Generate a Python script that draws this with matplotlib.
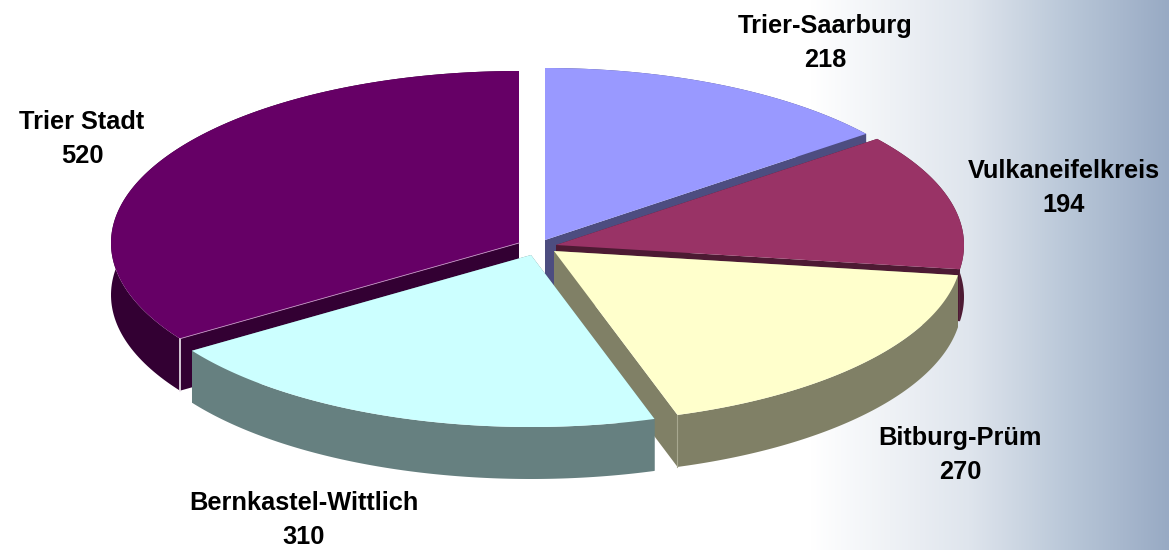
import numpy as np
import matplotlib
matplotlib.use('Agg')
import matplotlib.pyplot as plt
from matplotlib.colors import LinearSegmentedColormap
from matplotlib.patches import Polygon

names = ['Trier-Saarburg', 'Vulkaneifelkreis', 'Bitburg-Prüm', 'Bernkastel-Wittlich', 'Trier Stadt']
values = [218, 194, 270, 310, 520]
top_colors = ['#9999ff', '#993366', '#ffffcc', '#ccffff', '#660066']
side_colors = ['#4d4d80', '#4d1a33', '#808066', '#668080', '#330033']

# apex of every exploded slice, in pixels
apex_x = [545, 556, 554, 531, 519]
apex_y = [240, 245, 251, 255, 243]
label_x = [825, 1064, 960, 304, 82]
label_y = [43, 188, 455, 520, 139]

RX = 408
RY = 172
DEPTH = 52

plt.rcParams['font.family'] = ['Liberation Sans', 'DejaVu Sans']

fig = plt.figure(figsize=(11.69, 5.5), dpi=100)
ax = fig.add_axes([0, 0, 1, 1])
ax.axis('off')

# background, white then blue-grey to the right
cmap = LinearSegmentedColormap.from_list(
    'bg', [(0, '#ffffff'), (0.443, '#dfe5ed'), (0.72, '#b9c7d8'), (1, '#98aac4')])
grad = np.linspace(0, 1, 256).reshape(1, -1)
ax.imshow(grad, extent=[810, 1169, 550, 0], cmap=cmap, aspect='auto', zorder=0)
ax.set_xlim(0, 1169)
ax.set_ylim(550, 0)


def arc(cx, cy, a0, a1):
    t = np.radians(np.linspace(a0, a1, 120))
    return cx + RX * np.sin(t), cy - RY * np.cos(t)


angles = np.cumsum([0] + values) / sum(values) * 360
z = 1

# slices are drawn back to front
for i in [0, 1, 4, 2, 3]:
    a0, a1 = angles[i], angles[i + 1]
    cx, cy = apex_x[i], apex_y[i]
    xs, ys = arc(cx, cy, a0, a1)

    # radial faces
    for ex, ey in [(xs[0], ys[0]), (xs[-1], ys[-1])]:
        face = [(cx, cy), (ex, ey), (ex, ey + DEPTH), (cx, cy + DEPTH)]
        ax.add_patch(Polygon(face, fc=side_colors[i], ec='none', zorder=z))
    # outer wall
    wall = np.r_[np.c_[xs, ys], np.c_[xs[::-1], ys[::-1] + DEPTH]]
    ax.add_patch(Polygon(wall, fc=side_colors[i], ec='none', zorder=z))
    # top
    top = np.r_[[[cx, cy]], np.c_[xs, ys]]
    ax.add_patch(Polygon(top, fc=top_colors[i], ec='none', zorder=z + 1))
    # light edge at the corner of the slice
    if names[i] == 'Trier Stadt':
        ax.plot([xs[0], xs[0]], [ys[0], ys[0] + DEPTH], color='#f0e8f0', lw=1.2, zorder=z + 1)
        ax.plot([cx, xs[0]], [cy, ys[0]], color='#c090c0', lw=0.6, zorder=z + 1)
    if names[i] == 'Bitburg-Prüm':
        ax.plot([xs[-1], xs[-1]], [ys[-1], ys[-1] + DEPTH], color='#a8a890', lw=0.8, zorder=z + 1)
    z += 2

for i in range(len(names)):
    ax.text(label_x[i], label_y[i], names[i] + '\n' + str(values[i]), ha='center', va='center',
            fontsize=18.3, fontweight='bold', color='black', linespacing=1.5, zorder=z)

fig.savefig('out.png', dpi=100)
